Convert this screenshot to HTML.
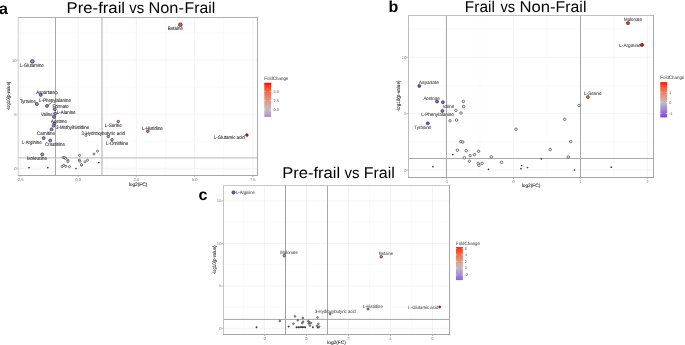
<!DOCTYPE html><html><head><meta charset="utf-8"><style>html,body{margin:0;padding:0;background:#fff;overflow:hidden}svg{display:block;will-change:transform}text{font-family:"Liberation Sans",sans-serif;text-rendering:geometricPrecision}</style></head><body>
<svg width="685" height="345" viewBox="0 0 685 345">
<rect width="685" height="345" fill="#fff"/>
<line x1="49.10" y1="17.50" x2="49.10" y2="175.50" stroke="#f7f7f7" stroke-width="0.6"/>
<line x1="107.30" y1="17.50" x2="107.30" y2="175.50" stroke="#f7f7f7" stroke-width="0.6"/>
<line x1="165.50" y1="17.50" x2="165.50" y2="175.50" stroke="#f7f7f7" stroke-width="0.6"/>
<line x1="223.70" y1="17.50" x2="223.70" y2="175.50" stroke="#f7f7f7" stroke-width="0.6"/>
<line x1="18.60" y1="141.30" x2="257.50" y2="141.30" stroke="#f7f7f7" stroke-width="0.6"/>
<line x1="18.60" y1="87.10" x2="257.50" y2="87.10" stroke="#f7f7f7" stroke-width="0.6"/>
<line x1="18.60" y1="32.90" x2="257.50" y2="32.90" stroke="#f7f7f7" stroke-width="0.6"/>
<line x1="20.00" y1="17.50" x2="20.00" y2="175.50" stroke="#f0f0f0" stroke-width="0.8"/>
<line x1="78.20" y1="17.50" x2="78.20" y2="175.50" stroke="#f0f0f0" stroke-width="0.8"/>
<line x1="136.40" y1="17.50" x2="136.40" y2="175.50" stroke="#f0f0f0" stroke-width="0.8"/>
<line x1="194.60" y1="17.50" x2="194.60" y2="175.50" stroke="#f0f0f0" stroke-width="0.8"/>
<line x1="252.80" y1="17.50" x2="252.80" y2="175.50" stroke="#f0f0f0" stroke-width="0.8"/>
<line x1="18.60" y1="168.40" x2="257.50" y2="168.40" stroke="#f0f0f0" stroke-width="0.8"/>
<line x1="18.60" y1="114.20" x2="257.50" y2="114.20" stroke="#f0f0f0" stroke-width="0.8"/>
<line x1="18.60" y1="60.00" x2="257.50" y2="60.00" stroke="#f0f0f0" stroke-width="0.8"/>
<line x1="55.50" y1="17.50" x2="55.50" y2="175.50" stroke="#a8a8a8" stroke-width="1.0"/>
<line x1="102.00" y1="17.50" x2="102.00" y2="175.50" stroke="#c4c4c4" stroke-width="1.4"/>
<line x1="18.60" y1="157.90" x2="257.50" y2="157.90" stroke="#c6c6c6" stroke-width="1.4"/>
<line x1="18.20" y1="17.00" x2="18.20" y2="176.00" stroke="#cfcfcf" stroke-width="1.0"/>
<line x1="18.10" y1="17.50" x2="258.00" y2="17.50" stroke="#b0b0b0" stroke-width="1.0"/>
<line x1="257.50" y1="17.00" x2="257.50" y2="176.00" stroke="#acacac" stroke-width="1.0"/>
<line x1="18.10" y1="175.50" x2="258.00" y2="175.50" stroke="#a6a6a6" stroke-width="1.0"/>
<line x1="20.00" y1="176.00" x2="20.00" y2="177.00" stroke="#888" stroke-width="0.6"/>
<text x="20.00" y="180.60" font-size="4.2" fill="#7a7a7a" text-anchor="middle">-2.5</text>
<line x1="78.20" y1="176.00" x2="78.20" y2="177.00" stroke="#888" stroke-width="0.6"/>
<text x="78.20" y="180.60" font-size="4.2" fill="#7a7a7a" text-anchor="middle">0.0</text>
<line x1="136.40" y1="176.00" x2="136.40" y2="177.00" stroke="#888" stroke-width="0.6"/>
<text x="136.40" y="180.60" font-size="4.2" fill="#7a7a7a" text-anchor="middle">2.5</text>
<line x1="194.60" y1="176.00" x2="194.60" y2="177.00" stroke="#888" stroke-width="0.6"/>
<text x="194.60" y="180.60" font-size="4.2" fill="#7a7a7a" text-anchor="middle">5.0</text>
<line x1="252.80" y1="176.00" x2="252.80" y2="177.00" stroke="#888" stroke-width="0.6"/>
<text x="252.80" y="180.60" font-size="4.2" fill="#7a7a7a" text-anchor="middle">7.5</text>
<line x1="17.10" y1="168.40" x2="18.10" y2="168.40" stroke="#888" stroke-width="0.6"/>
<text x="16.60" y="169.90" font-size="4.2" fill="#7a7a7a" text-anchor="end">0</text>
<line x1="17.10" y1="114.20" x2="18.10" y2="114.20" stroke="#888" stroke-width="0.6"/>
<text x="16.60" y="115.70" font-size="4.2" fill="#7a7a7a" text-anchor="end">5</text>
<line x1="17.10" y1="60.00" x2="18.10" y2="60.00" stroke="#888" stroke-width="0.6"/>
<text x="16.60" y="61.50" font-size="4.2" fill="#7a7a7a" text-anchor="end">10</text>
<text x="138.05" y="185.60" font-size="4.8" fill="#222" text-anchor="middle" stroke="#222" stroke-width="0.08">log2(FC)</text>
<text x="0" y="0" font-size="4.9" fill="#222" stroke="#222" stroke-width="0.08" text-anchor="middle" textLength="28.5" lengthAdjust="spacingAndGlyphs" transform="translate(9.60,96.00) rotate(-90)">-log10(p-value)</text>
<line x1="413.07" y1="15.50" x2="413.07" y2="177.50" stroke="#f7f7f7" stroke-width="0.6"/>
<line x1="480.02" y1="15.50" x2="480.02" y2="177.50" stroke="#f7f7f7" stroke-width="0.6"/>
<line x1="546.98" y1="15.50" x2="546.98" y2="177.50" stroke="#f7f7f7" stroke-width="0.6"/>
<line x1="613.92" y1="15.50" x2="613.92" y2="177.50" stroke="#f7f7f7" stroke-width="0.6"/>
<line x1="408.50" y1="141.80" x2="653.50" y2="141.80" stroke="#f7f7f7" stroke-width="0.6"/>
<line x1="408.50" y1="85.40" x2="653.50" y2="85.40" stroke="#f7f7f7" stroke-width="0.6"/>
<line x1="408.50" y1="29.00" x2="653.50" y2="29.00" stroke="#f7f7f7" stroke-width="0.6"/>
<line x1="446.55" y1="15.50" x2="446.55" y2="177.50" stroke="#f0f0f0" stroke-width="0.8"/>
<line x1="513.50" y1="15.50" x2="513.50" y2="177.50" stroke="#f0f0f0" stroke-width="0.8"/>
<line x1="580.45" y1="15.50" x2="580.45" y2="177.50" stroke="#f0f0f0" stroke-width="0.8"/>
<line x1="647.40" y1="15.50" x2="647.40" y2="177.50" stroke="#f0f0f0" stroke-width="0.8"/>
<line x1="408.50" y1="170.00" x2="653.50" y2="170.00" stroke="#f0f0f0" stroke-width="0.8"/>
<line x1="408.50" y1="113.60" x2="653.50" y2="113.60" stroke="#f0f0f0" stroke-width="0.8"/>
<line x1="408.50" y1="57.20" x2="653.50" y2="57.20" stroke="#f0f0f0" stroke-width="0.8"/>
<line x1="446.50" y1="15.50" x2="446.50" y2="177.50" stroke="#a8a8a8" stroke-width="1.0"/>
<line x1="580.50" y1="15.50" x2="580.50" y2="177.50" stroke="#a8a8a8" stroke-width="1.0"/>
<line x1="408.50" y1="158.50" x2="653.50" y2="158.50" stroke="#aaa" stroke-width="1.0"/>
<line x1="408.50" y1="15.00" x2="408.50" y2="178.00" stroke="#bcbcbc" stroke-width="1.0"/>
<line x1="408.00" y1="15.50" x2="654.00" y2="15.50" stroke="#c0c0c0" stroke-width="1.0"/>
<line x1="653.50" y1="15.00" x2="653.50" y2="178.00" stroke="#a8a8a8" stroke-width="1.0"/>
<line x1="408.00" y1="177.50" x2="654.00" y2="177.50" stroke="#a4a4a4" stroke-width="1.0"/>
<line x1="446.55" y1="178.00" x2="446.55" y2="179.00" stroke="#888" stroke-width="0.6"/>
<text x="446.55" y="182.60" font-size="4.2" fill="#7a7a7a" text-anchor="middle">-1</text>
<line x1="513.50" y1="178.00" x2="513.50" y2="179.00" stroke="#888" stroke-width="0.6"/>
<text x="513.50" y="182.60" font-size="4.2" fill="#7a7a7a" text-anchor="middle">0</text>
<line x1="580.45" y1="178.00" x2="580.45" y2="179.00" stroke="#888" stroke-width="0.6"/>
<text x="580.45" y="182.60" font-size="4.2" fill="#7a7a7a" text-anchor="middle">1</text>
<line x1="647.40" y1="178.00" x2="647.40" y2="179.00" stroke="#888" stroke-width="0.6"/>
<text x="647.40" y="182.60" font-size="4.2" fill="#7a7a7a" text-anchor="middle">2</text>
<line x1="407.00" y1="170.00" x2="408.00" y2="170.00" stroke="#888" stroke-width="0.6"/>
<text x="406.50" y="171.50" font-size="4.2" fill="#7a7a7a" text-anchor="end">0</text>
<line x1="407.00" y1="113.60" x2="408.00" y2="113.60" stroke="#888" stroke-width="0.6"/>
<text x="406.50" y="115.10" font-size="4.2" fill="#7a7a7a" text-anchor="end">5</text>
<line x1="407.00" y1="57.20" x2="408.00" y2="57.20" stroke="#888" stroke-width="0.6"/>
<text x="406.50" y="58.70" font-size="4.2" fill="#7a7a7a" text-anchor="end">10</text>
<text x="531.00" y="187.30" font-size="4.8" fill="#222" text-anchor="middle" stroke="#222" stroke-width="0.08">log2(FC)</text>
<text x="0" y="0" font-size="4.9" fill="#222" stroke="#222" stroke-width="0.08" text-anchor="middle" textLength="31.0" lengthAdjust="spacingAndGlyphs" transform="translate(399.60,96.00) rotate(-90)">-log10(p-value)</text>
<line x1="243.50" y1="185.50" x2="243.50" y2="334.50" stroke="#f7f7f7" stroke-width="0.6"/>
<line x1="285.50" y1="185.50" x2="285.50" y2="334.50" stroke="#f7f7f7" stroke-width="0.6"/>
<line x1="327.50" y1="185.50" x2="327.50" y2="334.50" stroke="#f7f7f7" stroke-width="0.6"/>
<line x1="369.50" y1="185.50" x2="369.50" y2="334.50" stroke="#f7f7f7" stroke-width="0.6"/>
<line x1="411.50" y1="185.50" x2="411.50" y2="334.50" stroke="#f7f7f7" stroke-width="0.6"/>
<line x1="223.50" y1="307.15" x2="449.50" y2="307.15" stroke="#f7f7f7" stroke-width="0.6"/>
<line x1="223.50" y1="264.65" x2="449.50" y2="264.65" stroke="#f7f7f7" stroke-width="0.6"/>
<line x1="223.50" y1="222.15" x2="449.50" y2="222.15" stroke="#f7f7f7" stroke-width="0.6"/>
<line x1="264.50" y1="185.50" x2="264.50" y2="334.50" stroke="#f0f0f0" stroke-width="0.8"/>
<line x1="306.50" y1="185.50" x2="306.50" y2="334.50" stroke="#f0f0f0" stroke-width="0.8"/>
<line x1="348.50" y1="185.50" x2="348.50" y2="334.50" stroke="#f0f0f0" stroke-width="0.8"/>
<line x1="390.50" y1="185.50" x2="390.50" y2="334.50" stroke="#f0f0f0" stroke-width="0.8"/>
<line x1="432.50" y1="185.50" x2="432.50" y2="334.50" stroke="#f0f0f0" stroke-width="0.8"/>
<line x1="223.50" y1="328.40" x2="449.50" y2="328.40" stroke="#f0f0f0" stroke-width="0.8"/>
<line x1="223.50" y1="285.90" x2="449.50" y2="285.90" stroke="#f0f0f0" stroke-width="0.8"/>
<line x1="223.50" y1="243.40" x2="449.50" y2="243.40" stroke="#f0f0f0" stroke-width="0.8"/>
<line x1="223.50" y1="200.90" x2="449.50" y2="200.90" stroke="#f0f0f0" stroke-width="0.8"/>
<line x1="285.50" y1="185.50" x2="285.50" y2="334.50" stroke="#a0a0a0" stroke-width="1.0"/>
<line x1="327.50" y1="185.50" x2="327.50" y2="334.50" stroke="#a8a8a8" stroke-width="1.0"/>
<line x1="223.50" y1="319.40" x2="449.50" y2="319.40" stroke="#a4a4a4" stroke-width="1.0"/>
<line x1="223.50" y1="185.00" x2="223.50" y2="335.00" stroke="#c4c4c4" stroke-width="1.0"/>
<line x1="223.00" y1="185.50" x2="450.00" y2="185.50" stroke="#c8c8c8" stroke-width="1.0"/>
<line x1="449.50" y1="185.00" x2="449.50" y2="335.00" stroke="#a8a8a8" stroke-width="1.0"/>
<line x1="223.00" y1="334.50" x2="450.00" y2="334.50" stroke="#a6a6a6" stroke-width="1.0"/>
<line x1="264.50" y1="335.00" x2="264.50" y2="336.00" stroke="#888" stroke-width="0.6"/>
<text x="264.50" y="339.60" font-size="4.2" fill="#7a7a7a" text-anchor="middle">-2</text>
<line x1="306.50" y1="335.00" x2="306.50" y2="336.00" stroke="#888" stroke-width="0.6"/>
<text x="306.50" y="339.60" font-size="4.2" fill="#7a7a7a" text-anchor="middle">0</text>
<line x1="348.50" y1="335.00" x2="348.50" y2="336.00" stroke="#888" stroke-width="0.6"/>
<text x="348.50" y="339.60" font-size="4.2" fill="#7a7a7a" text-anchor="middle">2</text>
<line x1="390.50" y1="335.00" x2="390.50" y2="336.00" stroke="#888" stroke-width="0.6"/>
<text x="390.50" y="339.60" font-size="4.2" fill="#7a7a7a" text-anchor="middle">4</text>
<line x1="432.50" y1="335.00" x2="432.50" y2="336.00" stroke="#888" stroke-width="0.6"/>
<text x="432.50" y="339.60" font-size="4.2" fill="#7a7a7a" text-anchor="middle">6</text>
<line x1="222.00" y1="328.40" x2="223.00" y2="328.40" stroke="#888" stroke-width="0.6"/>
<text x="221.50" y="329.90" font-size="4.2" fill="#7a7a7a" text-anchor="end">0</text>
<line x1="222.00" y1="285.90" x2="223.00" y2="285.90" stroke="#888" stroke-width="0.6"/>
<text x="221.50" y="287.40" font-size="4.2" fill="#7a7a7a" text-anchor="end">5</text>
<line x1="222.00" y1="243.40" x2="223.00" y2="243.40" stroke="#888" stroke-width="0.6"/>
<text x="221.50" y="244.90" font-size="4.2" fill="#7a7a7a" text-anchor="end">10</text>
<line x1="222.00" y1="200.90" x2="223.00" y2="200.90" stroke="#888" stroke-width="0.6"/>
<text x="221.50" y="202.40" font-size="4.2" fill="#7a7a7a" text-anchor="end">15</text>
<text x="336.50" y="344.00" font-size="4.8" fill="#222" text-anchor="middle" stroke="#222" stroke-width="0.08">log2(FC)</text>
<text x="0" y="0" font-size="4.9" fill="#222" stroke="#222" stroke-width="0.08" text-anchor="middle" textLength="28.6" lengthAdjust="spacingAndGlyphs" transform="translate(216.10,260.00) rotate(-90)">-log10(p-value)</text>
<circle cx="85.90" cy="135.40" r="1.05" fill="#f8f8f8" stroke="#2a2a2a" stroke-width="0.6"/>
<circle cx="79.50" cy="155.30" r="1.05" fill="#f8f8f8" stroke="#2a2a2a" stroke-width="0.6"/>
<circle cx="97.50" cy="151.10" r="1.05" fill="#f8f8f8" stroke="#2a2a2a" stroke-width="0.6"/>
<circle cx="94.00" cy="154.00" r="1.05" fill="#f8f8f8" stroke="#2a2a2a" stroke-width="0.6"/>
<circle cx="63.20" cy="157.40" r="1.05" fill="#f8f8f8" stroke="#2a2a2a" stroke-width="0.6"/>
<circle cx="64.50" cy="157.80" r="1.05" fill="#f8f8f8" stroke="#2a2a2a" stroke-width="0.6"/>
<circle cx="65.50" cy="158.30" r="1.05" fill="#f8f8f8" stroke="#2a2a2a" stroke-width="0.6"/>
<circle cx="67.80" cy="160.20" r="1.05" fill="#f8f8f8" stroke="#2a2a2a" stroke-width="0.6"/>
<circle cx="67.90" cy="161.60" r="1.05" fill="#f8f8f8" stroke="#2a2a2a" stroke-width="0.6"/>
<circle cx="79.40" cy="160.20" r="1.05" fill="#f8f8f8" stroke="#2a2a2a" stroke-width="0.6"/>
<circle cx="79.90" cy="161.30" r="1.05" fill="#f8f8f8" stroke="#2a2a2a" stroke-width="0.6"/>
<circle cx="81.50" cy="165.00" r="1.05" fill="#f8f8f8" stroke="#2a2a2a" stroke-width="0.6"/>
<circle cx="85.00" cy="161.80" r="1.05" fill="#f8f8f8" stroke="#2a2a2a" stroke-width="0.6"/>
<circle cx="87.50" cy="160.20" r="1.05" fill="#f8f8f8" stroke="#2a2a2a" stroke-width="0.6"/>
<circle cx="62.10" cy="166.50" r="1.05" fill="#f8f8f8" stroke="#2a2a2a" stroke-width="0.6"/>
<circle cx="63.70" cy="165.30" r="1.05" fill="#f8f8f8" stroke="#2a2a2a" stroke-width="0.6"/>
<circle cx="65.80" cy="166.30" r="1.05" fill="#f8f8f8" stroke="#2a2a2a" stroke-width="0.6"/>
<circle cx="69.50" cy="166.60" r="1.05" fill="#f8f8f8" stroke="#2a2a2a" stroke-width="0.6"/>
<circle cx="81.60" cy="164.80" r="1.05" fill="#f8f8f8" stroke="#2a2a2a" stroke-width="0.6"/>
<circle cx="29.00" cy="167.60" r="0.85" fill="#3a3a3a"/>
<circle cx="47.80" cy="167.60" r="0.85" fill="#3a3a3a"/>
<circle cx="76.00" cy="168.50" r="0.85" fill="#3a3a3a"/>
<circle cx="98.80" cy="162.50" r="0.85" fill="#3a3a3a"/>
<circle cx="32.40" cy="61.40" r="1.9" fill="#9484dc" stroke="#222" stroke-width="0.6"/>
<circle cx="40.70" cy="94.90" r="1.5" fill="#9484dc" stroke="#222" stroke-width="0.6"/>
<circle cx="36.90" cy="104.00" r="1.5" fill="#9484dc" stroke="#222" stroke-width="0.6"/>
<circle cx="47.00" cy="105.90" r="1.5" fill="#9484dc" stroke="#222" stroke-width="0.6"/>
<circle cx="54.80" cy="109.20" r="1.5" fill="#9484dc" stroke="#222" stroke-width="0.6"/>
<circle cx="55.10" cy="113.60" r="1.5" fill="#9484dc" stroke="#222" stroke-width="0.6"/>
<circle cx="54.00" cy="116.90" r="1.5" fill="#9484dc" stroke="#222" stroke-width="0.6"/>
<circle cx="54.30" cy="123.50" r="1.5" fill="#9484dc" stroke="#222" stroke-width="0.6"/>
<circle cx="53.60" cy="125.70" r="1.5" fill="#9484dc" stroke="#222" stroke-width="0.6"/>
<circle cx="51.50" cy="129.30" r="1.5" fill="#9484dc" stroke="#222" stroke-width="0.6"/>
<circle cx="43.70" cy="138.10" r="1.5" fill="#9484dc" stroke="#222" stroke-width="0.6"/>
<circle cx="50.20" cy="140.60" r="1.5" fill="#9484dc" stroke="#222" stroke-width="0.6"/>
<circle cx="42.20" cy="154.40" r="1.5" fill="#9484dc" stroke="#222" stroke-width="0.6"/>
<circle cx="118.30" cy="121.50" r="1.25" fill="#e19885" stroke="#222" stroke-width="0.6"/>
<circle cx="108.20" cy="136.60" r="1.25" fill="#daa293" stroke="#222" stroke-width="0.6"/>
<circle cx="112.00" cy="139.70" r="1.25" fill="#dd9e8e" stroke="#222" stroke-width="0.6"/>
<circle cx="147.80" cy="131.30" r="1.3" fill="#f0795d" stroke="#222" stroke-width="0.6"/>
<circle cx="180.40" cy="24.70" r="1.9" fill="#fa4e30" stroke="#222" stroke-width="0.6"/>
<circle cx="246.90" cy="135.10" r="1.35" fill="#ff0000" stroke="#222" stroke-width="0.6"/>
<line x1="47.90" y1="105.50" x2="52.30" y2="101.90" stroke="#222" stroke-width="0.6"/>
<text x="167.80" y="29.80" font-size="5.0" fill="#1a1a1a" textLength="15.20" lengthAdjust="spacingAndGlyphs" stroke="#1a1a1a" stroke-width="0.06">Betaine</text>
<text x="19.90" y="66.90" font-size="5.0" fill="#1a1a1a" textLength="23.90" lengthAdjust="spacingAndGlyphs" stroke="#1a1a1a" stroke-width="0.06">L-Glutamine</text>
<text x="36.30" y="94.00" font-size="5.0" fill="#1a1a1a" textLength="18.70" lengthAdjust="spacingAndGlyphs" stroke="#1a1a1a" stroke-width="0.06">Aspartate</text>
<text x="19.90" y="102.60" font-size="5.0" fill="#1a1a1a" textLength="15.90" lengthAdjust="spacingAndGlyphs" stroke="#1a1a1a" stroke-width="0.06">Tyrosine</text>
<text x="39.00" y="102.00" font-size="5.0" fill="#1a1a1a" textLength="31.90" lengthAdjust="spacingAndGlyphs" stroke="#1a1a1a" stroke-width="0.06">L-Phenylalanine</text>
<text x="52.50" y="107.90" font-size="5.0" fill="#1a1a1a" textLength="16.30" lengthAdjust="spacingAndGlyphs" stroke="#1a1a1a" stroke-width="0.06">Formate</text>
<text x="56.80" y="114.00" font-size="5.0" fill="#1a1a1a" textLength="18.80" lengthAdjust="spacingAndGlyphs" stroke="#1a1a1a" stroke-width="0.06">L-Alanine</text>
<text x="41.00" y="115.90" font-size="5.0" fill="#1a1a1a" textLength="11.50" lengthAdjust="spacingAndGlyphs" stroke="#1a1a1a" stroke-width="0.06">Valine</text>
<text x="51.00" y="122.80" font-size="5.0" fill="#1a1a1a" textLength="15.90" lengthAdjust="spacingAndGlyphs" stroke="#1a1a1a" stroke-width="0.06">Acetone</text>
<text x="56.00" y="129.10" font-size="5.0" fill="#1a1a1a" textLength="33.20" lengthAdjust="spacingAndGlyphs" stroke="#1a1a1a" stroke-width="0.06">3-Methylhistidine</text>
<text x="37.10" y="135.00" font-size="5.0" fill="#1a1a1a" textLength="17.80" lengthAdjust="spacingAndGlyphs" stroke="#1a1a1a" stroke-width="0.06">Carnitine</text>
<text x="21.80" y="143.80" font-size="5.0" fill="#1a1a1a" textLength="19.90" lengthAdjust="spacingAndGlyphs" stroke="#1a1a1a" stroke-width="0.06">L-Arginine</text>
<text x="45.00" y="145.70" font-size="5.0" fill="#1a1a1a" textLength="20.00" lengthAdjust="spacingAndGlyphs" stroke="#1a1a1a" stroke-width="0.06">Creatinine</text>
<text x="27.00" y="159.90" font-size="5.0" fill="#1a1a1a" textLength="20.00" lengthAdjust="spacingAndGlyphs" stroke="#1a1a1a" stroke-width="0.06">Isoleucine</text>
<text x="104.70" y="127.20" font-size="5.0" fill="#1a1a1a" textLength="17.00" lengthAdjust="spacingAndGlyphs" stroke="#1a1a1a" stroke-width="0.06">L-Serine</text>
<text x="81.60" y="135.10" font-size="5.0" fill="#1a1a1a" textLength="43.30" lengthAdjust="spacingAndGlyphs" stroke="#1a1a1a" stroke-width="0.06">3-Hydroxybutyric acid</text>
<text x="106.00" y="145.10" font-size="5.0" fill="#1a1a1a" textLength="22.20" lengthAdjust="spacingAndGlyphs" stroke="#1a1a1a" stroke-width="0.06">L-Ornithine</text>
<text x="142.10" y="129.90" font-size="5.0" fill="#1a1a1a" textLength="20.70" lengthAdjust="spacingAndGlyphs" stroke="#1a1a1a" stroke-width="0.06">L-Histidine</text>
<text x="213.80" y="139.20" font-size="5.0" fill="#1a1a1a" textLength="31.00" lengthAdjust="spacingAndGlyphs" stroke="#1a1a1a" stroke-width="0.06">L-Glutamic acid</text>
<circle cx="56.20" cy="92.80" r="1.25" fill="#f8f8f8" stroke="#2a2a2a" stroke-width="0.6"/>
<circle cx="463.40" cy="101.40" r="1.25" fill="#f8f8f8" stroke="#2a2a2a" stroke-width="0.6"/>
<circle cx="463.60" cy="106.50" r="1.25" fill="#f8f8f8" stroke="#2a2a2a" stroke-width="0.6"/>
<circle cx="455.90" cy="110.40" r="1.25" fill="#f8f8f8" stroke="#2a2a2a" stroke-width="0.6"/>
<circle cx="461.00" cy="113.00" r="1.25" fill="#f8f8f8" stroke="#2a2a2a" stroke-width="0.6"/>
<circle cx="450.00" cy="120.80" r="1.25" fill="#f8f8f8" stroke="#2a2a2a" stroke-width="0.6"/>
<circle cx="456.60" cy="120.00" r="1.25" fill="#f8f8f8" stroke="#2a2a2a" stroke-width="0.6"/>
<circle cx="516.00" cy="129.20" r="1.25" fill="#f8f8f8" stroke="#2a2a2a" stroke-width="0.6"/>
<circle cx="460.70" cy="141.70" r="1.25" fill="#f8f8f8" stroke="#2a2a2a" stroke-width="0.6"/>
<circle cx="462.80" cy="142.00" r="1.25" fill="#f8f8f8" stroke="#2a2a2a" stroke-width="0.6"/>
<circle cx="457.40" cy="150.20" r="1.25" fill="#f8f8f8" stroke="#2a2a2a" stroke-width="0.6"/>
<circle cx="466.20" cy="150.70" r="1.25" fill="#f8f8f8" stroke="#2a2a2a" stroke-width="0.6"/>
<circle cx="478.60" cy="151.30" r="1.25" fill="#f8f8f8" stroke="#2a2a2a" stroke-width="0.6"/>
<circle cx="470.10" cy="155.70" r="1.25" fill="#f8f8f8" stroke="#2a2a2a" stroke-width="0.6"/>
<circle cx="474.50" cy="154.60" r="1.25" fill="#f8f8f8" stroke="#2a2a2a" stroke-width="0.6"/>
<circle cx="464.40" cy="157.70" r="1.25" fill="#f8f8f8" stroke="#2a2a2a" stroke-width="0.6"/>
<circle cx="491.30" cy="156.80" r="1.25" fill="#f8f8f8" stroke="#2a2a2a" stroke-width="0.6"/>
<circle cx="469.40" cy="161.20" r="1.25" fill="#f8f8f8" stroke="#2a2a2a" stroke-width="0.6"/>
<circle cx="478.20" cy="163.40" r="1.25" fill="#f8f8f8" stroke="#2a2a2a" stroke-width="0.6"/>
<circle cx="478.90" cy="165.30" r="1.25" fill="#f8f8f8" stroke="#2a2a2a" stroke-width="0.6"/>
<circle cx="482.10" cy="163.40" r="1.25" fill="#f8f8f8" stroke="#2a2a2a" stroke-width="0.6"/>
<circle cx="501.60" cy="162.30" r="1.25" fill="#f8f8f8" stroke="#2a2a2a" stroke-width="0.6"/>
<circle cx="578.90" cy="105.50" r="1.25" fill="#f8f8f8" stroke="#2a2a2a" stroke-width="0.6"/>
<circle cx="564.70" cy="119.30" r="1.25" fill="#f8f8f8" stroke="#2a2a2a" stroke-width="0.6"/>
<circle cx="570.70" cy="141.60" r="1.25" fill="#f8f8f8" stroke="#2a2a2a" stroke-width="0.6"/>
<circle cx="550.20" cy="149.60" r="1.25" fill="#f8f8f8" stroke="#2a2a2a" stroke-width="0.6"/>
<circle cx="568.20" cy="157.00" r="1.25" fill="#f8f8f8" stroke="#2a2a2a" stroke-width="0.6"/>
<circle cx="611.30" cy="167.20" r="0.85" fill="#3a3a3a"/>
<circle cx="521.60" cy="165.50" r="0.85" fill="#3a3a3a"/>
<circle cx="520.90" cy="168.60" r="0.85" fill="#3a3a3a"/>
<circle cx="527.50" cy="167.50" r="0.85" fill="#3a3a3a"/>
<circle cx="452.80" cy="154.60" r="0.85" fill="#3a3a3a"/>
<circle cx="488.50" cy="169.30" r="0.85" fill="#3a3a3a"/>
<circle cx="432.90" cy="166.60" r="0.85" fill="#3a3a3a"/>
<circle cx="541.30" cy="158.80" r="0.85" fill="#3a3a3a"/>
<circle cx="574.50" cy="170.00" r="0.85" fill="#3a3a3a"/>
<circle cx="628.00" cy="23.10" r="1.5999999999999999" fill="#fd381e" stroke="#222" stroke-width="0.6"/>
<circle cx="642.00" cy="44.90" r="1.5999999999999999" fill="#ff0000" stroke="#222" stroke-width="0.6"/>
<circle cx="587.90" cy="97.00" r="1.5" fill="#f27456" stroke="#222" stroke-width="0.6"/>
<circle cx="419.30" cy="85.90" r="1.5" fill="#6f46ef" stroke="#222" stroke-width="0.6"/>
<circle cx="437.00" cy="101.50" r="1.5" fill="#865ee7" stroke="#222" stroke-width="0.6"/>
<circle cx="442.90" cy="102.20" r="1.5" fill="#8c65e4" stroke="#222" stroke-width="0.6"/>
<circle cx="442.40" cy="110.90" r="1.5" fill="#8b65e4" stroke="#222" stroke-width="0.6"/>
<circle cx="427.80" cy="123.30" r="1.5" fill="#7b52eb" stroke="#222" stroke-width="0.6"/>
<text x="624.10" y="21.36" font-size="4.9" fill="#222" textLength="17.90" lengthAdjust="spacingAndGlyphs" stroke="#222" stroke-width="0.03">Malonate</text>
<text x="619.20" y="46.66" font-size="4.9" fill="#222" textLength="21.50" lengthAdjust="spacingAndGlyphs" stroke="#222" stroke-width="0.03">L-Arginine</text>
<text x="584.10" y="95.26" font-size="4.9" fill="#222" textLength="17.40" lengthAdjust="spacingAndGlyphs" stroke="#222" stroke-width="0.03">L-Serine</text>
<text x="419.10" y="84.06" font-size="4.9" fill="#222" textLength="19.60" lengthAdjust="spacingAndGlyphs" stroke="#222" stroke-width="0.03">Aspartate</text>
<text x="423.40" y="100.06" font-size="4.9" fill="#222" textLength="16.40" lengthAdjust="spacingAndGlyphs" stroke="#222" stroke-width="0.03">Acetone</text>
<text x="442.70" y="107.76" font-size="4.9" fill="#222" textLength="11.30" lengthAdjust="spacingAndGlyphs" stroke="#222" stroke-width="0.03">Valine</text>
<text x="421.20" y="116.36" font-size="4.9" fill="#222" textLength="32.60" lengthAdjust="spacingAndGlyphs" stroke="#222" stroke-width="0.03">L-Phenylalanine</text>
<text x="414.30" y="128.96" font-size="4.9" fill="#222" textLength="16.80" lengthAdjust="spacingAndGlyphs" stroke="#222" stroke-width="0.03">Tyrosine</text>
<circle cx="279.80" cy="321.00" r="0.9" fill="#aaa" stroke="#333" stroke-width="0.55"/>
<circle cx="295.00" cy="316.40" r="0.9" fill="#aaa" stroke="#333" stroke-width="0.55"/>
<circle cx="302.80" cy="318.00" r="0.9" fill="#aaa" stroke="#333" stroke-width="0.55"/>
<circle cx="297.90" cy="320.30" r="0.9" fill="#aaa" stroke="#333" stroke-width="0.55"/>
<circle cx="293.40" cy="323.70" r="0.9" fill="#aaa" stroke="#333" stroke-width="0.55"/>
<circle cx="303.00" cy="321.60" r="0.9" fill="#aaa" stroke="#333" stroke-width="0.55"/>
<circle cx="302.30" cy="323.00" r="0.9" fill="#aaa" stroke="#333" stroke-width="0.55"/>
<circle cx="308.30" cy="321.20" r="0.9" fill="#aaa" stroke="#333" stroke-width="0.55"/>
<circle cx="309.60" cy="322.50" r="0.9" fill="#aaa" stroke="#333" stroke-width="0.55"/>
<circle cx="310.90" cy="323.00" r="0.9" fill="#aaa" stroke="#333" stroke-width="0.55"/>
<circle cx="308.70" cy="323.40" r="0.9" fill="#aaa" stroke="#333" stroke-width="0.55"/>
<circle cx="309.90" cy="325.60" r="0.9" fill="#aaa" stroke="#333" stroke-width="0.55"/>
<circle cx="317.50" cy="317.50" r="0.9" fill="#aaa" stroke="#333" stroke-width="0.55"/>
<circle cx="318.30" cy="323.80" r="0.9" fill="#aaa" stroke="#333" stroke-width="0.55"/>
<circle cx="317.00" cy="326.00" r="0.9" fill="#aaa" stroke="#333" stroke-width="0.55"/>
<circle cx="319.20" cy="326.70" r="0.9" fill="#aaa" stroke="#333" stroke-width="0.55"/>
<circle cx="256.50" cy="327.30" r="0.95" fill="#3a3a3a"/>
<circle cx="288.60" cy="326.50" r="0.95" fill="#3a3a3a"/>
<circle cx="296.50" cy="327.30" r="0.95" fill="#3a3a3a"/>
<circle cx="298.20" cy="327.30" r="0.95" fill="#3a3a3a"/>
<circle cx="300.00" cy="327.30" r="0.95" fill="#3a3a3a"/>
<circle cx="301.30" cy="327.10" r="0.95" fill="#3a3a3a"/>
<circle cx="302.60" cy="327.30" r="0.95" fill="#3a3a3a"/>
<circle cx="303.90" cy="327.10" r="0.95" fill="#3a3a3a"/>
<circle cx="305.20" cy="327.30" r="0.95" fill="#3a3a3a"/>
<circle cx="312.90" cy="327.20" r="0.95" fill="#3a3a3a"/>
<circle cx="317.90" cy="327.60" r="0.95" fill="#3a3a3a"/>
<circle cx="233.50" cy="192.40" r="1.6" fill="#7650f5" stroke="#222" stroke-width="0.6"/>
<circle cx="284.30" cy="255.70" r="1.3" fill="#b3a3ca" stroke="#222" stroke-width="0.6"/>
<circle cx="381.30" cy="256.70" r="1.3" fill="#f17659" stroke="#222" stroke-width="0.6"/>
<circle cx="368.00" cy="309.10" r="1.05" fill="#eb846b" stroke="#222" stroke-width="0.6"/>
<circle cx="439.80" cy="307.00" r="1.05" fill="#ff0000" stroke="#222" stroke-width="0.6"/>
<circle cx="330.20" cy="313.90" r="1.0" fill="#d4a99d" stroke="#222" stroke-width="0.6"/>
<text x="236.00" y="194.29" font-size="4.7" fill="#2a2a2a" textLength="18.80" lengthAdjust="spacingAndGlyphs" stroke="#2a2a2a" stroke-width="0.0">L-Arginine</text>
<text x="280.30" y="254.29" font-size="4.7" fill="#2a2a2a" textLength="17.60" lengthAdjust="spacingAndGlyphs" stroke="#2a2a2a" stroke-width="0.0">Malonate</text>
<text x="379.00" y="254.89" font-size="4.7" fill="#2a2a2a" textLength="14.00" lengthAdjust="spacingAndGlyphs" stroke="#2a2a2a" stroke-width="0.0">Betaine</text>
<text x="314.80" y="312.59" font-size="4.7" fill="#2a2a2a" textLength="40.90" lengthAdjust="spacingAndGlyphs" stroke="#2a2a2a" stroke-width="0.0">3-Hydroxybutyric acid</text>
<text x="362.80" y="307.59" font-size="4.7" fill="#2a2a2a" textLength="20.00" lengthAdjust="spacingAndGlyphs" stroke="#2a2a2a" stroke-width="0.0">L-Histidine</text>
<text x="408.30" y="308.69" font-size="4.7" fill="#2a2a2a" textLength="30.00" lengthAdjust="spacingAndGlyphs" stroke="#2a2a2a" stroke-width="0.0">L-Glutamic acid</text>
<defs><linearGradient id="g264" x1="0" y1="0" x2="0" y2="1"><stop offset="0.0" stop-color="#ff0000"/><stop offset="0.083" stop-color="#fd351c"/><stop offset="0.167" stop-color="#fa4f30"/><stop offset="0.25" stop-color="#f66244"/><stop offset="0.333" stop-color="#f27356"/><stop offset="0.417" stop-color="#ec8369"/><stop offset="0.5" stop-color="#e5917c"/><stop offset="0.583" stop-color="#dc9f8f"/><stop offset="0.667" stop-color="#d2aca2"/><stop offset="0.75" stop-color="#c4b9b6"/><stop offset="0.833" stop-color="#bab4c3"/><stop offset="0.917" stop-color="#b2a3cb"/><stop offset="1.0" stop-color="#aa92d2"/></linearGradient></defs>
<rect x="264.30" y="82.80" width="6.8" height="34.20" fill="url(#g264)"/>
<line x1="264.30" y1="91.30" x2="265.60" y2="91.30" stroke="#fff" stroke-width="0.5"/>
<line x1="269.80" y1="91.30" x2="271.10" y2="91.30" stroke="#fff" stroke-width="0.5"/>
<text x="273.60" y="92.65" font-size="3.8" fill="#555">5.0</text>
<line x1="264.30" y1="100.50" x2="265.60" y2="100.50" stroke="#fff" stroke-width="0.5"/>
<line x1="269.80" y1="100.50" x2="271.10" y2="100.50" stroke="#fff" stroke-width="0.5"/>
<text x="273.60" y="101.85" font-size="3.8" fill="#555">2.5</text>
<line x1="264.30" y1="109.70" x2="265.60" y2="109.70" stroke="#fff" stroke-width="0.5"/>
<line x1="269.80" y1="109.70" x2="271.10" y2="109.70" stroke="#fff" stroke-width="0.5"/>
<text x="273.60" y="111.05" font-size="3.8" fill="#555">0.0</text>
<text x="264.30" y="80.00" font-size="4.8" fill="#333" textLength="24.00" lengthAdjust="spacingAndGlyphs">FoldChange</text>
<defs><linearGradient id="g660" x1="0" y1="0" x2="0" y2="1"><stop offset="0.0" stop-color="#ff0000"/><stop offset="0.083" stop-color="#fc4125"/><stop offset="0.167" stop-color="#f75e3f"/><stop offset="0.25" stop-color="#f17559"/><stop offset="0.333" stop-color="#e98a72"/><stop offset="0.417" stop-color="#de9c8b"/><stop offset="0.5" stop-color="#cfaea6"/><stop offset="0.583" stop-color="#bdbcbf"/><stop offset="0.667" stop-color="#b3a5ca"/><stop offset="0.75" stop-color="#a78ed4"/><stop offset="0.833" stop-color="#9976dd"/><stop offset="0.917" stop-color="#865fe7"/><stop offset="1.0" stop-color="#6f46ef"/></linearGradient></defs>
<rect x="660.30" y="82.20" width="6.8" height="35.20" fill="url(#g660)"/>
<line x1="660.30" y1="92.30" x2="661.60" y2="92.30" stroke="#fff" stroke-width="0.5"/>
<line x1="665.80" y1="92.30" x2="667.10" y2="92.30" stroke="#fff" stroke-width="0.5"/>
<text x="669.20" y="93.65" font-size="3.8" fill="#555">1</text>
<line x1="660.30" y1="102.40" x2="661.60" y2="102.40" stroke="#fff" stroke-width="0.5"/>
<line x1="665.80" y1="102.40" x2="667.10" y2="102.40" stroke="#fff" stroke-width="0.5"/>
<text x="669.20" y="103.75" font-size="3.8" fill="#555">0</text>
<line x1="660.30" y1="113.50" x2="661.60" y2="113.50" stroke="#fff" stroke-width="0.5"/>
<line x1="665.80" y1="113.50" x2="667.10" y2="113.50" stroke="#fff" stroke-width="0.5"/>
<text x="669.20" y="114.85" font-size="3.8" fill="#555">-1</text>
<text x="660.30" y="79.20" font-size="4.8" fill="#333" textLength="24.00" lengthAdjust="spacingAndGlyphs">FoldChange</text>
<defs><linearGradient id="g456" x1="0" y1="0" x2="0" y2="1"><stop offset="0.0" stop-color="#ff1205"/><stop offset="0.083" stop-color="#fc4225"/><stop offset="0.167" stop-color="#f85c3d"/><stop offset="0.25" stop-color="#f27153"/><stop offset="0.333" stop-color="#ec846a"/><stop offset="0.417" stop-color="#e39581"/><stop offset="0.5" stop-color="#d7a598"/><stop offset="0.583" stop-color="#c9b5af"/><stop offset="0.667" stop-color="#bbb6c2"/><stop offset="0.75" stop-color="#b2a1cb"/><stop offset="0.833" stop-color="#a78cd4"/><stop offset="0.917" stop-color="#9978dd"/><stop offset="1.0" stop-color="#8a62e5"/></linearGradient></defs>
<rect x="456.00" y="247.10" width="6.8" height="33.00" fill="url(#g456)"/>
<line x1="456.00" y1="248.60" x2="457.30" y2="248.60" stroke="#fff" stroke-width="0.5"/>
<line x1="461.50" y1="248.60" x2="462.80" y2="248.60" stroke="#fff" stroke-width="0.5"/>
<text x="464.70" y="249.95" font-size="3.8" fill="#555">6</text>
<line x1="456.00" y1="254.80" x2="457.30" y2="254.80" stroke="#fff" stroke-width="0.5"/>
<line x1="461.50" y1="254.80" x2="462.80" y2="254.80" stroke="#fff" stroke-width="0.5"/>
<text x="464.70" y="256.15" font-size="3.8" fill="#555">4</text>
<line x1="456.00" y1="261.40" x2="457.30" y2="261.40" stroke="#fff" stroke-width="0.5"/>
<line x1="461.50" y1="261.40" x2="462.80" y2="261.40" stroke="#fff" stroke-width="0.5"/>
<text x="464.70" y="262.75" font-size="3.8" fill="#555">2</text>
<line x1="456.00" y1="268.00" x2="457.30" y2="268.00" stroke="#fff" stroke-width="0.5"/>
<line x1="461.50" y1="268.00" x2="462.80" y2="268.00" stroke="#fff" stroke-width="0.5"/>
<text x="464.70" y="269.35" font-size="3.8" fill="#555">0</text>
<line x1="456.00" y1="275.00" x2="457.30" y2="275.00" stroke="#fff" stroke-width="0.5"/>
<line x1="461.50" y1="275.00" x2="462.80" y2="275.00" stroke="#fff" stroke-width="0.5"/>
<text x="464.70" y="276.35" font-size="3.8" fill="#555">-2</text>
<text x="456.00" y="245.00" font-size="4.8" fill="#333" textLength="24.00" lengthAdjust="spacingAndGlyphs">FoldChange</text>
<text x="66.56" y="12.60" font-size="15.6" fill="#000" textLength="58.53" lengthAdjust="spacingAndGlyphs">Pre-frail</text>
<text x="129.33" y="12.60" font-size="15.6" fill="#000" textLength="14.90" lengthAdjust="spacingAndGlyphs">vs</text>
<text x="148.49" y="12.60" font-size="15.6" fill="#000" textLength="35.40" lengthAdjust="spacingAndGlyphs">Non-</text>
<text x="184.54" y="12.60" font-size="15.6" fill="#000" textLength="30.68" lengthAdjust="spacingAndGlyphs">Frail</text>
<text x="464.86" y="12.30" font-size="15.6" fill="#000" textLength="30.03" lengthAdjust="spacingAndGlyphs">Frail</text>
<text x="500.43" y="12.30" font-size="15.6" fill="#000" textLength="14.58" lengthAdjust="spacingAndGlyphs">vs</text>
<text x="519.47" y="12.30" font-size="15.6" fill="#000" textLength="36.14" lengthAdjust="spacingAndGlyphs">Non-</text>
<text x="555.63" y="12.30" font-size="15.6" fill="#000" textLength="30.79" lengthAdjust="spacingAndGlyphs">Frail</text>
<text x="282.17" y="178.00" font-size="15.6" fill="#000" textLength="58.01" lengthAdjust="spacingAndGlyphs">Pre-frail</text>
<text x="344.43" y="178.00" font-size="15.6" fill="#000" textLength="15.00" lengthAdjust="spacingAndGlyphs">vs</text>
<text x="363.72" y="178.00" font-size="15.6" fill="#000" textLength="31.00" lengthAdjust="spacingAndGlyphs">Frail</text>
<text x="-0.90" y="14.40" font-size="16" fill="#000" font-weight="bold">a</text>
<text x="388.50" y="12.40" font-size="16" fill="#000" font-weight="bold">b</text>
<text x="198.60" y="199.50" font-size="16" fill="#000" font-weight="bold">c</text>
</svg></body></html>
